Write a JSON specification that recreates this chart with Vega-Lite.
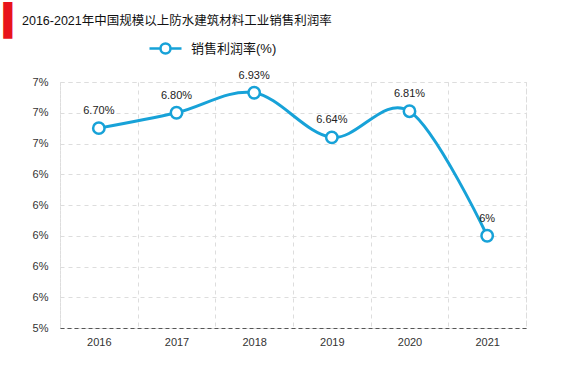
{
  "$schema": "https://vega.github.io/schema/vega-lite/v6.json",
  "width": 466,
  "height": 246,
  "autosize": {"type": "none"},
  "padding": {"left": 60, "top": 82, "right": 41, "bottom": 50},
  "background": "white",
  "title": {
    "text": "2016-2021年中国规模以上防水建筑材料工业销售利润率",
    "anchor": "start",
    "frame": "group",
    "dx": -38,
    "dy": 26,
    "fontSize": 12.5,
    "fontWeight": "normal",
    "color": "#111",
    "font": "Liberation Sans, Noto Sans CJK SC"
  },
  "config": {
    "font": "Liberation Sans, Noto Sans CJK SC",
    "view": {"stroke": "#dddddd", "strokeDash": [4, 4]},
    "axis": {"gridColor": "#dddddd", "gridDash": [4, 4], "labelColor": "#333", "labelFontSize": 11, "ticks": false}
  },
  "data": {
    "values": [
      {"year": "2016", "rate": 6.70, "label": "6.70%", "s": "销售利润率(%)"},
      {"year": "2017", "rate": 6.80, "label": "6.80%", "s": "销售利润率(%)"},
      {"year": "2018", "rate": 6.93, "label": "6.93%", "s": "销售利润率(%)"},
      {"year": "2019", "rate": 6.64, "label": "6.64%", "s": "销售利润率(%)"},
      {"year": "2020", "rate": 6.81, "label": "6.81%", "s": "销售利润率(%)"},
      {"year": "2021", "rate": 6.00, "label": "6%", "s": "销售利润率(%)"}
    ]
  },
  "encoding": {
    "x": {
      "field": "year", "type": "ordinal",
      "scale": {"type": "band", "paddingInner": 0, "paddingOuter": 0},
      "axis": {"title": null, "labelAngle": 0, "tickBand": "extent", "grid": true, "domainColor": "#555", "domainDash": [4, 3], "labelPadding": 8}
    },
    "y": {
      "field": "rate", "type": "quantitative",
      "scale": {"domain": [5.4, 7.0], "nice": false, "zero": false},
      "axis": {
        "title": "▍", "titleColor": "#e8141b", "titleFont": "DejaVu Sans", "titleFontSize": 31, "titleFontWeight": "normal",
        "titleAngle": 0, "titleAlign": "left", "titleBaseline": "alphabetic", "titleX": -57, "titleY": -52,
        "values": [5.4, 5.6, 5.8, 6.0, 6.2, 6.4, 6.6, 6.8, 7.0],
        "labelExpr": "format(datum.value, '.0f') + '%'",
        "domain": false, "labelPadding": 12, "grid": true
      }
    }
  },
  "layer": [
    {
      "mark": {"type": "line", "interpolate": "cardinal", "strokeWidth": 3},
      "encoding": {
        "color": {
          "field": "s", "type": "nominal",
          "scale": {"range": ["#17a2d8"]},
          "legend": {
            "title": null, "orient": "none", "legendX": 88, "legendY": -51,
            "symbolType": "M-1,0L-0.3125,0M0.3125,0L1,0M-0.3125,0A0.3125,0.3125,0,1,1,0.3125,0A0.3125,0.3125,0,1,1,-0.3125,0Z",
            "symbolSize": 1024, "symbolStrokeWidth": 2.5, "labelFontSize": 13, "labelColor": "#111", "labelOffset": 8,
            "encode": {"symbols": {"update": {"fill": {"value": "white"}, "stroke": {"value": "#17a2d8"}, "strokeWidth": {"value": 2.5}}}}
          }
        }
      }
    },
    {
      "mark": {"type": "point", "filled": false, "fill": "white", "fillOpacity": 1, "stroke": "#17a2d8", "strokeWidth": 2.5, "size": 130, "opacity": 1}
    },
    {
      "mark": {"type": "text", "dy": -17, "fontSize": 11, "color": "#222"},
      "encoding": {"text": {"field": "label"}}
    }
  ]
}
